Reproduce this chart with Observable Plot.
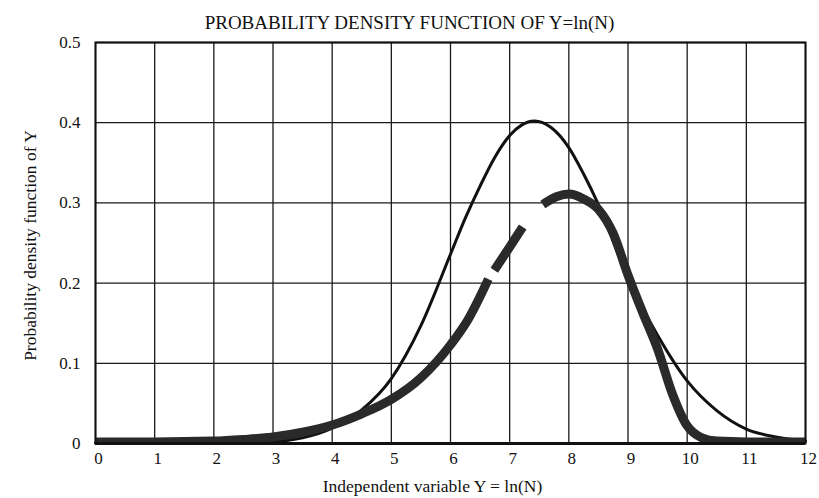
<!DOCTYPE html>
<html>
<head>
<meta charset="utf-8">
<script src="https://cdn.jsdelivr.net/npm/d3@7"></script>
<script src="https://cdn.jsdelivr.net/npm/@observablehq/plot@0.6"></script>
<style>
  html, body { margin: 0; padding: 0; background: #fff; }
  #chart { width: 819px; height: 498px; }
</style>
</head>
<body>
<div id="chart"></div>
<script>
// ---- data ----
const titleText = "PROBABILITY DENSITY FUNCTION OF Y=ln(N)";
const xLabel = "Independent variable Y = ln(N)";
const yLabel = "Probability density function of Y";

const xTicks = [0, 1, 2, 3, 4, 5, 6, 7, 8, 9, 10, 11, 12];
const yTicks = [0, 0.1, 0.2, 0.3, 0.4, 0.5];
const yTickLabels = ["0", "0.1", "0.2", "0.3", "0.4", "0.5"];

// thin curve
const thinX = [0, 1, 2, 3, 3.5, 4, 4.5, 5, 5.5, 6, 6.25, 6.5, 6.75, 7, 7.2, 7.42, 7.7, 8, 8.25, 8.5, 9, 9.5, 10, 10.5, 11, 11.5, 12];
const thinY = [0.001, 0.001, 0.001, 0.0025, 0.007, 0.019, 0.042, 0.081, 0.147, 0.236, 0.281, 0.321, 0.357, 0.384, 0.397, 0.402, 0.394, 0.369, 0.336, 0.298, 0.206, 0.135, 0.078, 0.041, 0.018, 0.008, 0.003];

// thick (broken) curve; null = gap in the stroke
const thickX = [0, 1, 2, 2.5, 3, 3.5, 4, 4.5, 5, 5.5, 6, 6.3, 6.64, 6.69, 6.74, 7.0, 7.22, 7.4, 7.56, 7.8, 8.0, 8.25, 8.5, 8.75, 9.0, 9.25, 9.5, 9.75, 10.0, 10.25, 10.5, 11, 12];
const thickY = [0.002, 0.002, 0.003, 0.005, 0.008, 0.014, 0.023, 0.037, 0.055, 0.082, 0.123, 0.155, 0.205, null, 0.216, 0.245, 0.27, null, 0.298, 0.308, 0.311, 0.305, 0.292, 0.262, 0.21, 0.163, 0.118, 0.062, 0.022, 0.007, 0.003, 0.002, 0.002];

const thin = thinX.map((x, i) => ({x, y: thinY[i]}));
const thick = thickX.map((x, i) => ({x, y: thickY[i]}));

const chart = Plot.plot({
  width: 819,
  height: 498,
  marginLeft: 95,
  marginRight: 14,
  marginTop: 42,
  marginBottom: 55,
  style: {fontFamily: "'Liberation Serif', 'Times New Roman', serif", fontSize: "17px", color: "#111", background: "#fff"},
  x: {domain: [0, 12], label: null},
  y: {domain: [0, 0.5], label: null},
  marks: [
    Plot.gridX(xTicks, {stroke: "#1a1a1a", strokeOpacity: 1, strokeWidth: 1.3}),
    Plot.gridY(yTicks, {stroke: "#1a1a1a", strokeOpacity: 1, strokeWidth: 1.3}),
    Plot.axisX(xTicks, {tickSize: 0, tickPadding: 8, dx: 3, label: null, fontSize: 17}),
    Plot.axisY(yTicks, {tickSize: 0, tickPadding: 15, label: null, fontSize: 17,
      tickFormat: (d) => yTickLabels[yTicks.findIndex(t => Math.abs(t - d) < 1e-9)]}),
    Plot.line(thin, {x: "x", y: "y", curve: "monotone-x", stroke: "#111", strokeWidth: 3}),
    Plot.line(thick, {x: "x", y: "y", curve: "monotone-x", stroke: "#2a2a2a", strokeWidth: 9, strokeLinecap: "butt", clip: true}),
    Plot.frame({stroke: "#111", strokeWidth: 2}),
    Plot.ruleY([0], {stroke: "#111", strokeWidth: 3}),
    Plot.text([titleText], {frameAnchor: "top", lineAnchor: "middle", dx: -41, dy: -20, fontSize: 19, fill: "#111"}),
    Plot.text([xLabel], {frameAnchor: "bottom", lineAnchor: "middle", dx: -18, dy: 43, fontSize: 17.5, fill: "#111"}),
    Plot.text([yLabel], {frameAnchor: "left", lineAnchor: "middle", textAnchor: "middle", rotate: -90, dx: -65, dy: 2.5, fontSize: 17.5, fill: "#111"})
  ]
});
document.getElementById("chart").appendChild(chart);
</script>
</body>
</html>
